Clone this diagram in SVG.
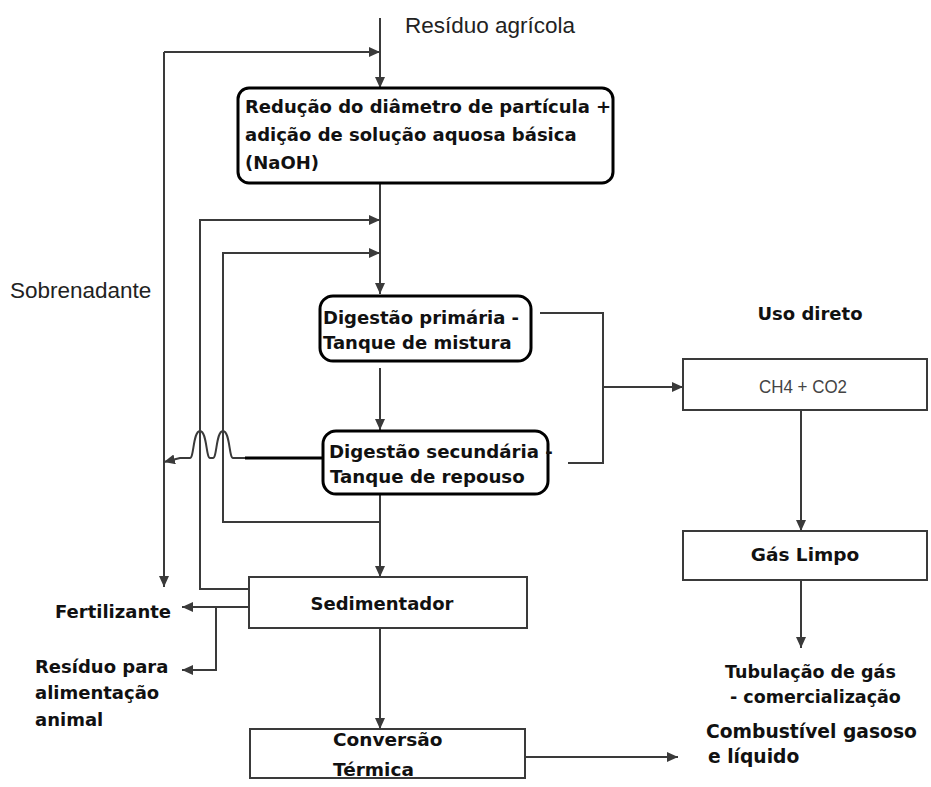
<svg xmlns="http://www.w3.org/2000/svg" width="931" height="787" viewBox="0 0 931 787">
  <style>
    .bg { fill: #ffffff; }
    .rbox { fill: #ffffff; stroke: #000000; stroke-width: 3; }
    .box { fill: #ffffff; stroke: #3a3a3a; stroke-width: 2; }
    .conn { fill: none; stroke: #3a3a3a; stroke-width: 2; }
    .thick { fill: none; stroke: #000000; stroke-width: 3; }
    .lbl { font-family: "DejaVu Sans", Verdana, sans-serif; font-size: 18px; font-weight: bold; fill: #111111; }
    .reg { font-family: "Liberation Sans", Arial, sans-serif; font-size: 22.5px; fill: #222222; }
    .thin { font-family: "Liberation Sans", Arial, sans-serif; font-size: 18px; fill: #444444; }
  </style>
  <defs>
    <marker id="arrow" markerUnits="userSpaceOnUse" markerWidth="12" markerHeight="10" refX="11" refY="5" orient="auto">
      <path d="M0,0 L11,5 L0,10 z" fill="#3a3a3a"/>
    </marker>
  </defs>

  <rect class="bg" x="0" y="0" width="931" height="787"/>

  <!-- flow lines -->
  <g id="connectors">
    <path class="conn" d="M380,18 V88" marker-end="url(#arrow)"/>
    <path class="conn" d="M164,52 H380" marker-end="url(#arrow)"/>
    <path class="conn" d="M164,52 V587" marker-end="url(#arrow)"/>
    <path class="conn" d="M380,183 V294" marker-end="url(#arrow)"/>
    <path class="conn" d="M249,589 H200 V220 H380" marker-end="url(#arrow)"/>
    <path class="conn" d="M380,522 H223 V253 H380" marker-end="url(#arrow)"/>
    <path class="conn" d="M380,368 V430" marker-end="url(#arrow)"/>
    <path class="conn" d="M380,495 V577" marker-end="url(#arrow)"/>
    <path class="conn" d="M380,628 V729" marker-end="url(#arrow)"/>
    <path class="conn" d="M525,757 H678" marker-end="url(#arrow)"/>
    <path class="conn" d="M249,607 H182" marker-end="url(#arrow)"/>
    <path class="conn" d="M216,607 V670 H182" marker-end="url(#arrow)"/>
    <path class="conn" d="M540,313 H603 V463 H568"/>
    <path class="conn" d="M603,387 H683" marker-end="url(#arrow)"/>
    <path class="conn" d="M801,410 V531" marker-end="url(#arrow)"/>
    <path class="conn" d="M801,580 V648" marker-end="url(#arrow)"/>
    <!-- overflow line hopping over the two recycle lines -->
    <path class="thick" d="M323,458 H245"/>
    <path class="conn" d="M245,458 H233 C229,458 230,431 223,431 C216,431 217,458 213,458 H210 C206,458 207,431 200,431 C193,431 194,458 190,458 H180 L164,462" marker-end="url(#arrow)"/>
  </g>

  <g id="n-residuo">
    <text class="reg" x="405" y="33">Resíduo agrícola</text>
  </g>

  <g id="n-reducao">
    <rect class="rbox" x="238" y="88" width="375" height="95" rx="11"/>
    <text class="lbl" x="245" y="113">Redução do diâmetro de partícula +</text>
    <text class="lbl" x="245" y="141">adição de solução aquosa básica</text>
    <text class="lbl" x="245" y="169">(NaOH)</text>
  </g>

  <g id="n-sobrenadante">
    <text class="reg" x="10" y="298">Sobrenadante</text>
  </g>

  <g id="n-primaria">
    <rect class="rbox" x="320" y="296" width="211" height="65" rx="13"/>
    <text class="lbl" x="323" y="324">Digestão primária -</text>
    <text class="lbl" x="323" y="349">Tanque de mistura</text>
  </g>

  <g id="n-secundaria">
    <rect class="rbox" x="323" y="431" width="225" height="63" rx="13"/>
    <text class="lbl" x="329" y="458" style="font-size:18.2px">Digestão secundária -</text>
    <text class="lbl" x="330" y="483" style="font-size:18.2px">Tanque de repouso</text>
  </g>

  <g id="n-uso">
    <text class="lbl" x="810" y="320" text-anchor="middle">Uso direto</text>
  </g>

  <g id="n-ch4">
    <rect class="box" x="683" y="359" width="244" height="51"/>
    <text class="thin" x="759" y="393" textLength="88" lengthAdjust="spacingAndGlyphs">CH4 + CO2</text>
  </g>

  <g id="n-gas">
    <rect class="box" x="683" y="531" width="244" height="49"/>
    <text class="lbl" x="805" y="561" text-anchor="middle" style="font-size:18.5px">Gás Limpo</text>
  </g>

  <g id="n-tubulacao">
    <text class="lbl" x="725" y="678" style="font-size:17.5px">Tubulação de gás</text>
    <text class="lbl" x="730" y="703" style="font-size:17.5px">- comercialização</text>
  </g>

  <g id="n-sedimentador">
    <rect class="box" x="249" y="577" width="278" height="51"/>
    <text class="lbl" x="382" y="610" text-anchor="middle">Sedimentador</text>
  </g>

  <g id="n-fertilizante">
    <text class="lbl" x="55" y="618">Fertilizante</text>
  </g>

  <g id="n-racao">
    <text class="lbl" x="35" y="673">Resíduo para</text>
    <text class="lbl" x="35" y="699">alimentação</text>
    <text class="lbl" x="35" y="726">animal</text>
  </g>

  <g id="n-conversao">
    <rect class="box" x="250" y="729" width="275" height="49"/>
    <text class="lbl" x="333" y="746" style="font-size:18.5px">Conversão</text>
    <text class="lbl" x="333" y="776" style="font-size:18.5px">Térmica</text>
  </g>

  <g id="n-combustivel">
    <text class="lbl" x="706" y="738" style="font-size:18.7px">Combustível gasoso</text>
    <text class="lbl" x="708" y="763" style="font-size:18.7px">e líquido</text>
  </g>
</svg>
